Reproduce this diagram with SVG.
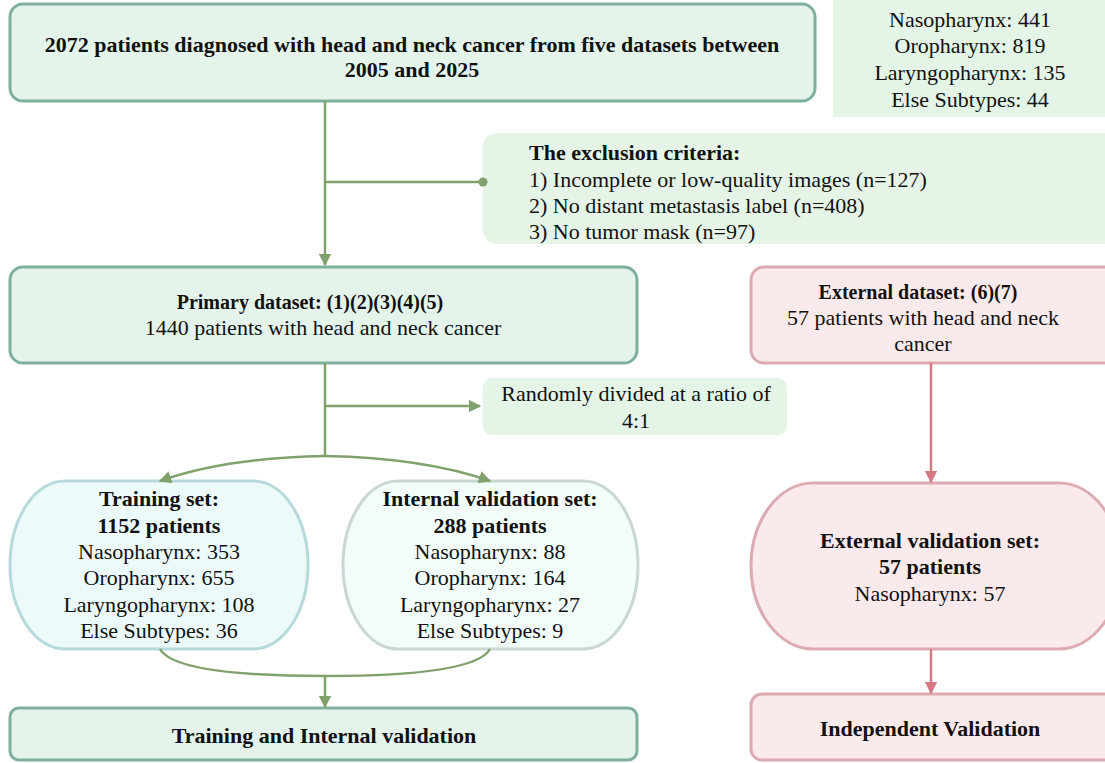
<svg xmlns="http://www.w3.org/2000/svg" width="1105" height="763" viewBox="0 0 1105 763">
<defs>
<style>
text{font-family:"Liberation Serif","Times New Roman",serif;font-size:22px;fill:#111;}
.b{font-weight:bold;}
.c{text-anchor:middle;}
.s{font-size:20px;}
.gbox{fill:#e4f4eb;stroke:#7fb09c;stroke-width:3;}
.rbox{fill:#fbeaeb;stroke:#dcaab1;stroke-width:3;}
.gl{fill:none;stroke:#80a06c;stroke-width:2.5;}
.rl{fill:none;stroke:#d57a85;stroke-width:2.5;}
</style>
<marker id="ag" viewBox="0 0 10 10" refX="9" refY="5" markerWidth="5" markerHeight="5" orient="auto" markerUnits="strokeWidth"><path d="M0,0 L10,5 L0,10 z" fill="#80a06c"/></marker>
<marker id="ar" viewBox="0 0 10 10" refX="9" refY="5" markerWidth="5" markerHeight="5" orient="auto" markerUnits="strokeWidth"><path d="M0,0 L10,5 L0,10 z" fill="#d57a85"/></marker>
</defs>

<g id="n-top">
<rect class="gbox" x="10" y="4" width="805" height="97" rx="13"/>
<text class="b c" x="412" y="52">2072 patients diagnosed with head and neck cancer from five datasets between</text>
<text class="b c" x="412" y="77">2005 and 2025</text>
</g>

<g id="n-subtypes">
<rect x="833" y="0" width="272" height="117" fill="#e4f4e7"/>
<text class="c" x="970" y="27">Nasopharynx: 441</text>
<text class="c" x="970" y="53">Oropharynx: 819</text>
<text class="c" x="970" y="80">Laryngopharynx: 135</text>
<text class="c" x="970" y="107">Else Subtypes: 44</text>
</g>

<g id="n-exclusion">
<rect x="483" y="133" width="640" height="111" rx="14" fill="#e6f4e8"/>
<text class="b" x="529" y="160">The exclusion criteria:</text>
<text x="529" y="187">1) Incomplete or low-quality images (n=127)</text>
<text x="529" y="213">2) No distant metastasis label (n=408)</text>
<text x="529" y="239">3) No tumor mask (n=97)</text>
</g>

<g id="n-primary">
<rect class="gbox" x="10" y="267" width="627" height="96" rx="13"/>
<text class="b c s" x="310" y="309">Primary dataset: (1)(2)(3)(4)(5)</text>
<text class="c" x="323" y="335">1440 patients with head and neck cancer</text>
</g>

<g id="n-external">
<rect class="rbox" x="751" y="267" width="370" height="96" rx="13"/>
<text class="b c s" x="918" y="299">External dataset: (6)(7)</text>
<text class="c" x="923" y="325">57 patients with head and neck</text>
<text class="c" x="923" y="351">cancer</text>
</g>

<g id="n-random">
<rect x="483" y="378" width="304" height="57" rx="9" fill="#e4f4e7"/>
<text class="c" x="636" y="401">Randomly divided at a ratio of</text>
<text class="c" x="636" y="428">4:1</text>
</g>

<g id="n-training">
<rect x="10" y="481" width="298" height="168" rx="55" ry="84" fill="#ecfbfa" stroke="#b6dadb" stroke-width="3"/>
<text class="b c" x="159" y="506">Training set:</text>
<text class="b c" x="159" y="533">1152 patients</text>
<text class="c" x="159" y="559">Nasopharynx: 353</text>
<text class="c" x="159" y="585">Oropharynx: 655</text>
<text class="c" x="159" y="612">Laryngopharynx: 108</text>
<text class="c" x="159" y="638">Else Subtypes: 36</text>
</g>

<g id="n-internal">
<rect x="343" y="481" width="295" height="168" rx="55" ry="84" fill="#f2fcf8" stroke="#c8d8d0" stroke-width="3"/>
<text class="b c" x="490" y="506">Internal validation set:</text>
<text class="b c" x="490" y="533">288 patients</text>
<text class="c" x="490" y="559">Nasopharynx: 88</text>
<text class="c" x="490" y="585">Oropharynx: 164</text>
<text class="c" x="490" y="612">Laryngopharynx: 27</text>
<text class="c" x="490" y="638">Else Subtypes: 9</text>
</g>

<g id="n-extval">
<rect class="rbox" x="751" y="483" width="370" height="166" rx="62" ry="83"/>
<text class="b c" x="930" y="548">External validation set:</text>
<text class="b c" x="930" y="574">57 patients</text>
<text class="c" x="930" y="601">Nasopharynx: 57</text>
</g>

<g id="n-final">
<rect class="gbox" x="10" y="708" width="627" height="52" rx="9"/>
<text class="b c" x="324" y="743">Training and Internal validation</text>
</g>

<g id="n-independent">
<rect class="rbox" x="751" y="694" width="370" height="66" rx="11"/>
<text class="b c" x="930" y="736">Independent Validation</text>
</g>

<g id="connectors">
<path class="gl" d="M325,101 V265" marker-end="url(#ag)"/>
<path class="gl" d="M325,182 H483"/>
<circle cx="483" cy="182" r="4.5" fill="#80a06c"/>
<path class="gl" d="M325,363 V456"/>
<path class="gl" d="M325,406 H480" marker-end="url(#ag)"/>
<path class="gl" d="M325,456 Q225,458 160,481" marker-end="url(#ag)"/>
<path class="gl" d="M325,456 Q425,458 490,481" marker-end="url(#ag)"/>
<path class="gl" d="M160,649 Q175,676 325,676 Q475,676 490,649"/>
<path class="gl" d="M325,676 V707" marker-end="url(#ag)"/>
<path class="rl" d="M931,363 V482" marker-end="url(#ar)"/>
<path class="rl" d="M931,649 V693" marker-end="url(#ar)"/>
</g>
</svg>
